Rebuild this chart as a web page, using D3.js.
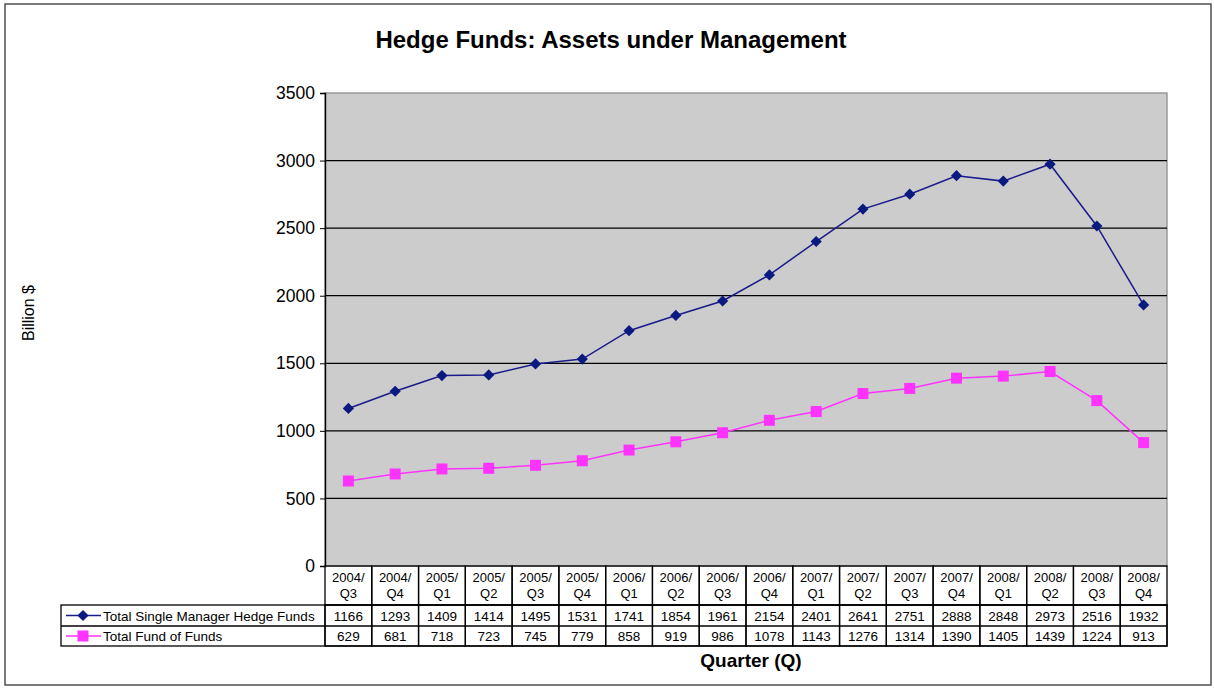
<!DOCTYPE html>
<html>
<head>
<meta charset="utf-8">
<script src="https://cdn.jsdelivr.net/npm/d3@7"></script>
<style>
  html, body { margin: 0; padding: 0; background: #fff; }
  svg { display: block; font-family: "Liberation Sans", Arial, sans-serif; }
</style>
</head>
<body>
<svg id="chart" width="1214" height="688"></svg>
<script>
// data
const quarters  = ['2004/Q3','2004/Q4','2005/Q1','2005/Q2','2005/Q3','2005/Q4','2006/Q1','2006/Q2','2006/Q3',
                   '2006/Q4','2007/Q1','2007/Q2','2007/Q3','2007/Q4','2008/Q1','2008/Q2','2008/Q3','2008/Q4'];
const singleMgr = [1166,1293,1409,1414,1495,1531,1741,1854,1961,2154,2401,2641,2751,2888,2848,2973,2516,1932];
const fundOfFds = [629,681,718,723,745,779,858,919,986,1078,1143,1276,1314,1390,1405,1439,1224,913];
const seriesNames = ['Total Single Manager Hedge Funds', 'Total Fund of Funds'];
const yTicks = [0,500,1000,1500,2000,2500,3000,3500];

const svg = d3.select('#chart');
const P = { left: 325, right: 1167, top: 93, bottom: 566 };

// outer frame
svg.append('rect').attr('x', 5).attr('y', 4).attr('width', 1206).attr('height', 681)
   .attr('fill', '#fff').attr('stroke', '#444').attr('stroke-width', 1.4);

const x = d3.scaleBand().domain(quarters).range([P.left, P.right]);
const y = d3.scaleLinear().domain([0, 3500]).range([P.bottom, P.top]);

// plot area
svg.append('rect').attr('x', P.left).attr('y', P.top)
   .attr('width', P.right - P.left).attr('height', P.bottom - P.top)
   .attr('fill', '#cccccc').attr('stroke', '#999').attr('stroke-width', 1.5);

// grid
svg.append('g').selectAll('line').data(yTicks.filter(d => d > 0 && d < 3500)).join('line')
   .attr('x1', P.left).attr('x2', P.right)
   .attr('y1', d => y(d)).attr('y2', d => y(d))
   .attr('stroke', '#000').attr('stroke-width', 1.2);

// y axis
const yAxis = svg.append('g').attr('transform', `translate(${P.left},0)`)
   .call(d3.axisLeft(y).tickValues(yTicks).tickSize(5).tickPadding(5).tickFormat(d3.format('d')));
yAxis.select('.domain').attr('stroke', '#000').attr('stroke-width', 1.4);
yAxis.selectAll('text').attr('font-size', 17.5).attr('fill', '#000').attr('font-family', '"Liberation Sans", Arial, sans-serif');

// title + axis labels
svg.append('text').attr('x', 611).attr('y', 48).attr('text-anchor', 'middle')
   .attr('font-size', 24).attr('font-weight', 'bold').text('Hedge Funds: Assets under Management');
svg.append('text').attr('transform', 'translate(34,313) rotate(-90)').attr('text-anchor', 'middle')
   .attr('font-size', 16).text('Billion $');
svg.append('text').attr('x', 751).attr('y', 667).attr('text-anchor', 'middle')
   .attr('font-size', 19).attr('font-weight', 'bold').text('Quarter (Q)');

// lines
const cx = d => x(d) + x.bandwidth() / 2;
const line = d3.line().x((d, i) => cx(quarters[i])).y(d => y(d));

svg.append('path').datum(singleMgr).attr('d', line)
   .attr('fill', 'none').attr('stroke', '#1a1a8c').attr('stroke-width', 1.5);
svg.append('path').datum(fundOfFds).attr('d', line)
   .attr('fill', 'none').attr('stroke', '#ff33ff').attr('stroke-width', 1.5);

const diamond = d3.symbol().type(d3.symbolDiamond2).size(80);
svg.append('g').selectAll('path').data(singleMgr).join('path')
   .attr('transform', (d, i) => `translate(${cx(quarters[i])},${y(d)})`)
   .attr('d', diamond).attr('fill', '#0a1a80');
svg.append('g').selectAll('rect').data(fundOfFds).join('rect')
   .attr('x', (d, i) => cx(quarters[i]) - 5.5).attr('y', d => y(d) - 5.5)
   .attr('width', 11).attr('height', 11).attr('fill', '#ff33ff');

// data table
const rowH = [566, 605, 626, 646];
const tbl = svg.append('g').attr('stroke', '#000').attr('stroke-width', 1.3);
quarters.forEach(q => {
  tbl.append('rect').attr('x', x(q)).attr('y', rowH[0]).attr('width', x.bandwidth())
     .attr('height', rowH[1] - rowH[0]).attr('fill', 'none');
  tbl.append('rect').attr('x', x(q)).attr('y', rowH[1]).attr('width', x.bandwidth())
     .attr('height', rowH[3] - rowH[1]).attr('fill', 'none');
});
tbl.append('rect').attr('x', 61).attr('y', rowH[1]).attr('width', P.right - 61)
   .attr('height', rowH[3] - rowH[1]).attr('fill', 'none');
tbl.append('line').attr('x1', 61).attr('x2', P.right).attr('y1', rowH[2]).attr('y2', rowH[2]);
tbl.append('line').attr('x1', P.left).attr('x2', P.left).attr('y1', rowH[1]).attr('y2', rowH[3]);

const hdr = svg.append('g').attr('font-size', 13).attr('text-anchor', 'middle').attr('fill', '#000');
quarters.forEach(q => {
  const [yr, qq] = q.split('/');
  hdr.append('text').attr('x', cx(q)).attr('y', 582).text(yr + '/');
  hdr.append('text').attr('x', cx(q)).attr('y', 598).text(qq);
});

[singleMgr, fundOfFds].forEach((vals, r) => {
  const ty = (rowH[r + 1] + rowH[r + 2]) / 2 + 5;
  svg.append('g').attr('font-size', 13.5).attr('text-anchor', 'middle')
     .selectAll('text').data(vals).join('text')
     .attr('x', (d, i) => cx(quarters[i])).attr('y', ty).text(d => d);
});

// legend keys in table
const legColors = ['#1a1a8c', '#ff33ff'];
seriesNames.forEach((name, r) => {
  const ly = (rowH[r + 1] + rowH[r + 2]) / 2;
  svg.append('line').attr('x1', 66).attr('x2', 101).attr('y1', ly).attr('y2', ly)
     .attr('stroke', legColors[r]).attr('stroke-width', 1.5);
  if (r === 0) {
    svg.append('path').attr('transform', `translate(83,${ly})`).attr('d', diamond).attr('fill', '#0a1a80');
  } else {
    svg.append('rect').attr('x', 77.5).attr('y', ly - 5.5).attr('width', 11).attr('height', 11).attr('fill', '#ff33ff');
  }
  svg.append('text').attr('x', 103).attr('y', ly + 5).attr('font-size', 13.5).text(name);
});
</script>
</body>
</html>
